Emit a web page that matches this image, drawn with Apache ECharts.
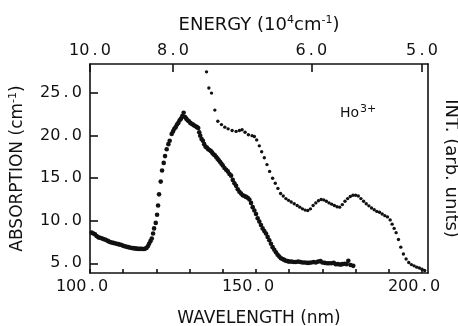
<!DOCTYPE html>
<html>
<head>
<meta charset="utf-8">
<script src="https://cdn.jsdelivr.net/npm/echarts@6/dist/echarts.min.js"></script>
<style>html,body{margin:0;padding:0;background:#fff}#c{width:458px;height:326px}</style>
</head>
<body>
<div id="c"></div>
<script>
// Tick / label values
const wavelengthLabelValues = [100, 150, 200];
const wavelengthTickValues = [100, 110, 120, 130, 140, 150, 160, 170, 180, 190, 200];
const energyTickValues = [10.0, 8.0, 6.0, 5.0];
const absorptionTickValues = [5, 10, 15, 20, 25];

// Absorption (cm^-1) vs wavelength (nm)
const absorption = [
[100.5,8.6],[101,8.5],[101.5,8.4],[102,8.2],[102.5,8.05],[103,8.0],[103.5,7.95],[104,7.85],[104.5,7.8],[105,7.7],
[105.5,7.6],[106,7.5],[106.5,7.45],[107,7.4],[107.5,7.35],[108,7.3],[108.5,7.25],[109,7.2],[109.5,7.15],[110,7.05],
[110.5,7.0],[111,6.95],[111.5,6.9],[112,6.85],[112.5,6.8],[113,6.78],[113.5,6.75],[114,6.72],[114.5,6.7],[115,6.7],
[115.5,6.7],[116,6.68],[116.5,6.7],[117,6.8],[117.4,7.0],[117.8,7.3],[118.2,7.6],[118.6,7.9],[119.0,8.5],[119.3,9.1],
[119.8,9.75],[120.2,10.7],[120.5,11.8],[120.8,13.1],[121.3,14.6],[121.7,15.9],[122.2,16.8],[122.6,17.6],[123.1,18.4],[123.6,19.0],
[124.0,19.4],[124.6,20.2],[125.0,20.5],[125.4,20.8],[125.8,21.0],[126.2,21.3],[126.6,21.5],[127.0,21.8],[127.4,22.0],[127.8,22.3],
[128.2,22.7],[128.6,22.2],[129.0,22.0],[129.4,21.8],[129.8,21.7],[130.2,21.5],[130.6,21.4],[131.0,21.3],[131.4,21.2],[131.8,21.1],
[132.2,21.0],[132.6,20.9],[132.9,20.4],[133.2,20.0],[133.6,19.6],[134.0,19.4],[134.4,19.0],[134.8,18.7],[135.2,18.6],[135.6,18.4],
[136.0,18.3],[136.4,18.2],[136.8,18.0],[137.2,17.8],[137.6,17.7],[138.0,17.5],[138.4,17.3],[138.8,17.1],[139.2,16.9],[139.6,16.7],
[140.0,16.5],[140.5,16.2],[141.0,16.0],[141.5,15.8],[142.0,15.5],[142.5,15.3],[143.0,14.8],[143.5,14.4],[144.0,14.1],[144.5,13.7],
[145.0,13.4],[145.5,13.2],[146.0,13.0],[146.5,12.9],[147.0,12.8],[147.5,12.7],[148.0,12.5],[148.5,12.1],[149.0,11.6],[149.5,11.2],
[150.0,10.8],[150.5,10.3],[151.0,9.9],[151.5,9.5],[152.0,9.1],[152.5,8.8],[153.0,8.5],[153.5,8.1],[154.0,7.7],[154.5,7.3],
[155.0,6.9],[155.5,6.6],[156.0,6.3],[156.5,6.0],[157.0,5.8],[157.5,5.6],[158.0,5.5],[158.5,5.4],[159.0,5.3],[159.5,5.25],
[160,5.2],[160.7,5.2],[161.4,5.15],[162,5.15],[162.7,5.2],[163.4,5.15],[164,5.1],[164.7,5.1],[165.4,5.05],[166,5.05],
[166.7,5.1],[167.4,5.15],[168,5.1],[168.7,5.2],[169.4,5.25],[170,5.1],[170.7,5.05],[171.4,5.0],[172,5.0],[172.7,5.0],
[173.4,5.05],[174,4.9],[174.7,4.9],[175.4,4.85],[176,4.9],[176.7,4.95],[177.3,4.9],[177.8,5.3],[178.5,4.8],[179.3,4.7]
];

// Emission intensity (arb. units) vs wavelength (nm)
const intensity = [
[135.1,27.5],[135.8,25.6],[136.6,25.0],[137.6,23.0],[138.5,21.7],[139.6,21.3],[140.6,21.0],[141.6,20.8],[142.8,20.6],[144.0,20.5],
[145.0,20.6],[145.8,20.7],[146.7,20.4],[147.7,20.1],[148.8,20.0],[149.5,19.9],[150.2,19.5],[151.0,18.8],[151.7,18.1],[152.5,17.4],
[153.3,16.6],[154.1,15.8],[155.0,15.0],[155.8,14.4],[156.6,13.8],[157.4,13.2],[158.2,12.9],[159.0,12.6],[159.8,12.4],[160.6,12.2],
[161.5,12.0],[162.4,11.8],[163.2,11.6],[164.0,11.4],[164.8,11.25],[165.6,11.2],[166.4,11.4],[167.2,11.8],[168.0,12.1],[168.8,12.35],
[169.6,12.5],[170.4,12.45],[171.2,12.3],[172.0,12.1],[172.8,11.95],[173.6,11.8],[174.4,11.65],[175.2,11.6],[176.0,11.9],[176.8,12.3],
[177.6,12.6],[178.4,12.85],[179.2,13.0],[180.0,13.0],[180.8,12.9],[181.6,12.6],[182.4,12.3],[183.2,12.0],[184.0,11.75],[184.8,11.5],
[185.6,11.3],[186.4,11.1],[187.2,11.0],[188.0,10.8],[188.8,10.6],[189.6,10.45],[190.4,10.1],[191.0,9.6],[191.6,9.1],[192.2,8.6],
[192.9,7.8],[193.6,6.9],[194.4,6.1],[195.2,5.5],[196.0,5.1],[196.8,4.85],[197.6,4.7],[198.4,4.55],[199.2,4.45],[200.0,4.3],[200.8,4.15]
];

const FONT = 'DejaVu Sans';
const INK = '#111';
function fmt(v) {
  const s = (Math.round(v * 10) / 10).toFixed(1).split('.');
  return s[0] + '\u2009.\u2009' + s[1];
}
const lineStyle = { color: INK, width: 1.6 };
const supStyle = { fontFamily: FONT, fontSize: 11, color: INK, verticalAlign: 'bottom', padding: [0, 0, 9, 0] };

const chart = echarts.init(document.getElementById('c'), null, { renderer: 'canvas' });
chart.setOption({
  animation: false,
  backgroundColor: '#fff',
  grid: { left: 90, right: 30, top: 64, bottom: 53, outerBoundsMode: 'none', containLabel: false },
  xAxis: [
    {
      type: 'value', position: 'bottom', min: 100, max: 201.8,
      name: 'WAVELENGTH (nm)', nameLocation: 'middle', nameGap: 37,
      nameTextStyle: { fontFamily: FONT, fontSize: 17, color: INK },
      axisLine: { show: true, onZero: false, lineStyle },
      axisTick: { show: true, inside: true, length: 4, customValues: wavelengthTickValues, lineStyle },
      axisLabel: { customValues: wavelengthLabelValues, formatter: fmt, fontFamily: FONT, fontSize: 16, color: INK, margin: 6, padding: [0, 16, 0, 0] },
      splitLine: { show: false }
    },
    {
      type: 'value', position: 'top', min: 100, max: 201.8,
      name: 'ENERGY (10{sup|4}cm{sup|-1})', nameLocation: 'middle', nameGap: 29,
      nameTextStyle: { fontFamily: FONT, fontSize: 18, color: INK, rich: { sup: supStyle } },
      axisLine: { show: true, onZero: false, lineStyle },
      axisTick: { show: true, inside: true, length: 8, customValues: energyTickValues.map(e => 1000 / e), lineStyle },
      axisLabel: { customValues: energyTickValues.map(e => 1000 / e), formatter: v => fmt(1000 / v), fontFamily: FONT, fontSize: 16, color: INK, margin: 5 },
      splitLine: { show: false }
    }
  ],
  yAxis: [
    {
      type: 'value', position: 'left', min: 3.86, max: 28.42,
      name: 'ABSORPTION (cm{sup|-1})', nameLocation: 'middle', nameGap: 62,
      nameTextStyle: { fontFamily: FONT, fontSize: 17, color: INK, rich: { sup: supStyle } },
      axisLine: { show: true, onZero: false, lineStyle },
      axisTick: { show: true, inside: true, length: 8, customValues: absorptionTickValues, lineStyle },
      axisLabel: { customValues: absorptionTickValues, formatter: fmt, fontFamily: FONT, fontSize: 16, color: INK, margin: 8 },
      splitLine: { show: false }
    },
    {
      type: 'value', position: 'right', min: 3.86, max: 28.42,
      name: 'INT. (arb. units)', nameLocation: 'middle', nameGap: 14, nameRotate: -90,
      nameTextStyle: { fontFamily: FONT, fontSize: 18, color: INK },
      axisLine: { show: true, onZero: false, lineStyle },
      axisTick: { show: false },
      axisLabel: { show: false },
      splitLine: { show: false }
    }
  ],
  graphic: [
    {
      type: 'text', left: 340, top: 104,
      style: { text: 'Ho{s|3+}', fontFamily: FONT, fontSize: 14, fill: INK,
        rich: { s: { fontFamily: FONT, fontSize: 11, fill: INK, verticalAlign: 'bottom', padding: [0, 0, 7, 1] } } }
    }
  ],
  series: [
    {
      name: 'absorption', type: 'scatter', xAxisIndex: 0, yAxisIndex: 0,
      data: absorption, symbol: 'circle', symbolSize: 4.6,
      itemStyle: { color: INK, opacity: 1 }
    },
    {
      name: 'intensity', type: 'scatter', xAxisIndex: 0, yAxisIndex: 0,
      data: intensity, symbol: 'circle', symbolSize: 3.4,
      itemStyle: { color: INK, opacity: 1 }
    }
  ]
});
</script>
</body>
</html>
